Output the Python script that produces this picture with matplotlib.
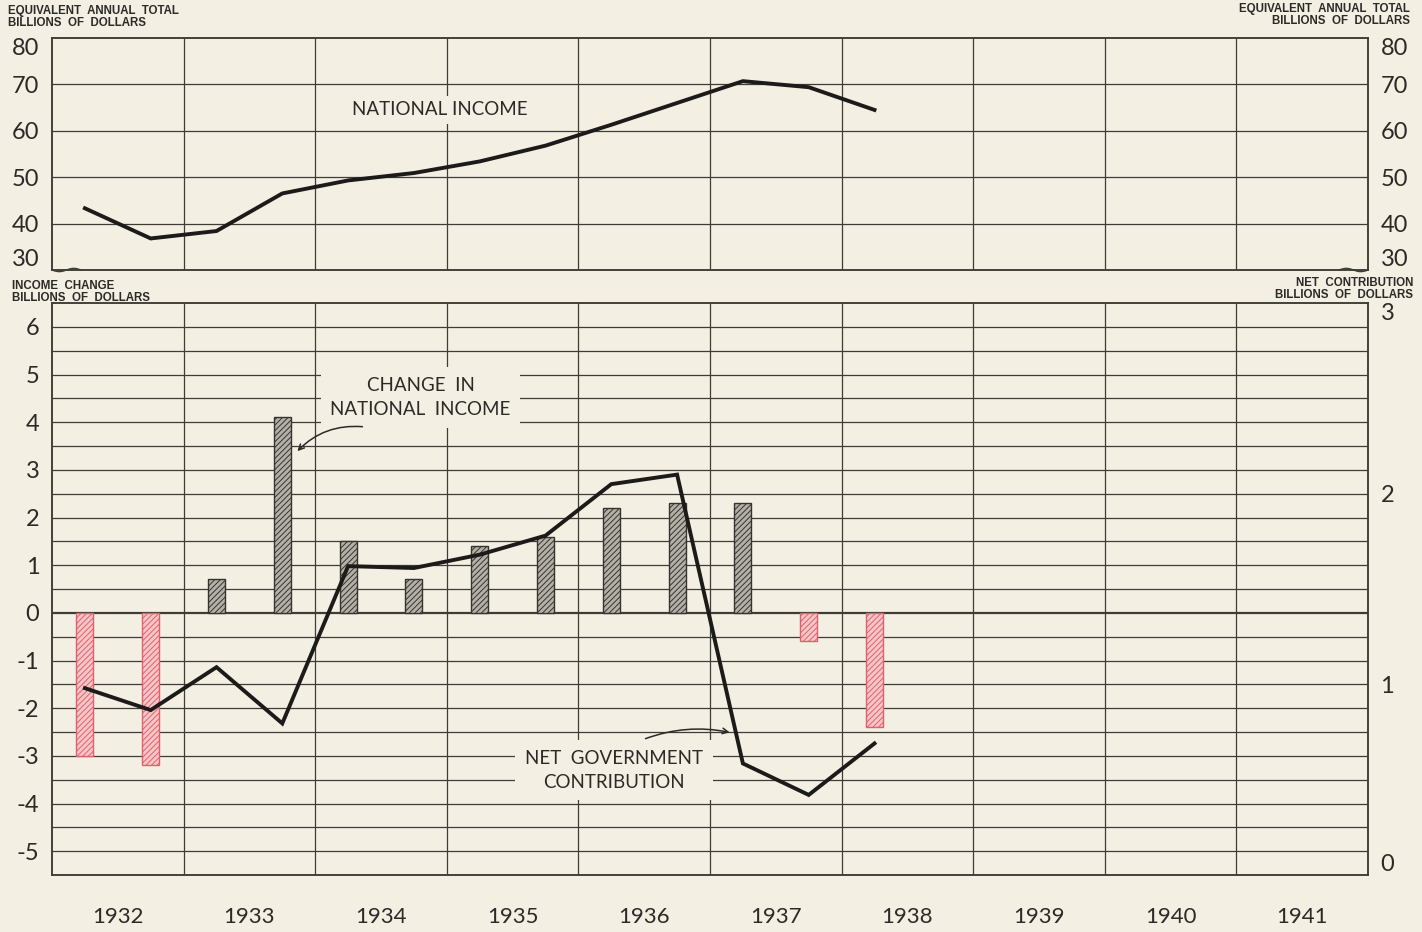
import numpy as np
import matplotlib.pyplot as plt

# Data (half-year periods, 1932 H1 .. 1938 H1)
years = [1932, 1933, 1934, 1935, 1936, 1937, 1938, 1939, 1940, 1941]
periods = [(1932, 1), (1932, 2), (1933, 1), (1933, 2), (1934, 1), (1934, 2),
           (1935, 1), (1935, 2), (1936, 1), (1936, 2), (1937, 1), (1937, 2),
           (1938, 1)]
national_income = [43.3, 36.8, 38.4, 46.5, 49.3, 50.9, 53.4, 56.8, 61.3, 66.0,
                   70.7, 69.4, 64.5]
income_change = [-3.0, -3.2, 0.7, 4.1, 1.5, 0.7, 1.4, 1.6, 2.2, 2.3, 2.3, -0.6,
                 -2.4]
net_contribution = [0.98, 0.865, 1.09, 0.795, 1.62, 1.61, 1.68, 1.78, 2.05,
                    2.10, 0.585, 0.42, 0.69]
top_ticks = [30, 40, 50, 60, 70, 80]
left_ticks = [-5, -4, -3, -2, -1, 0, 1, 2, 3, 4, 5, 6]
right_ticks = [0, 1, 2, 3]

# Styling
BG = '#f3efe3'
INK = '#2b2a27'
GRID = '#3d3c37'
NUM_FONT = 'Lato'
HEAD_FONT = 'Liberation Sans'
plt.rcParams['hatch.linewidth'] = 0.7

x = np.array([y + 0.25 + 0.5 * (h - 1) for y, h in periods])
vals = np.array(income_change)

W, H = 1422, 932
fig = plt.figure(figsize=(W / 100, H / 100), dpi=100, facecolor=BG)
ax1 = fig.add_axes([52 / W, 1 - 270 / H, 1316 / W, 232 / H])
ax2 = fig.add_axes([52 / W, 1 - 875 / H, 1316 / W, 572 / H])
ax1r = ax1.twinx()
ax2r = ax2.twinx()

xmin, xmax = years[0], years[-1] + 1
for a in (ax1, ax2):
    a.set_facecolor(BG)
    a.set_xlim(xmin, xmax)
    for yb in range(xmin + 1, xmax):
        a.axvline(yb, color=GRID, lw=0.9, zorder=1)
for a in (ax1, ax2, ax1r, ax2r):
    for s in a.spines.values():
        s.set_color(GRID)
        s.set_linewidth(1.1)
    a.tick_params(length=0)

# ---- top panel: national income
ax1.set_ylim(30, 80)
ax1r.set_ylim(30, 80)
for v in top_ticks[1:-1]:
    ax1.axhline(v, color=GRID, lw=0.9, zorder=1)
ax1.plot(x, national_income, color='#1c1b19', lw=2.8, zorder=3,
         solid_joinstyle='miter')
ax1.set_xticks([])
for a in (ax1, ax1r):
    a.set_yticks(top_ticks)
    a.set_yticklabels([str(t) for t in top_ticks], fontsize=17,
                      family=NUM_FONT, color=INK)
    a.tick_params(axis='y', pad=9)
    labs = a.get_yticklabels()
    labs[0].set_va('bottom')
    labs[-1].set_va('top')

# axis break squiggles
wx = np.linspace(0, 0.022, 40)
wy = -0.007 * np.sin(wx / 0.022 * 2 * np.pi)
ax1.plot(wx, wy, transform=ax1.transAxes, color=GRID, lw=1, clip_on=False)
ax1.plot(1 - wx, wy, transform=ax1.transAxes, color=GRID, lw=1, clip_on=False)

ax1.text(1934.95, 64.5, 'NATIONAL INCOME', fontsize=13.5, family=NUM_FONT,
         color=INK, ha='center', va='center', zorder=4,
         bbox=dict(facecolor=BG, edgecolor='none', pad=4))

# ---- bottom panel: income change bars + net government contribution
ax2.set_ylim(-5.5, 6.5)
ax2r.set_ylim(0, 3)
for v in np.arange(-5, 6.5, 0.5):
    ax2.axhline(v, color=GRID, lw=1.6 if v == 0 else 0.9, zorder=1)

pos = vals >= 0
ax2.bar(x[pos], vals[pos], width=0.13, color='#b4b0a7', edgecolor='#34332f',
        hatch='//////', lw=1.0, zorder=2)
ax2.bar(x[~pos], vals[~pos], width=0.13, color='#f5c6c8', edgecolor='#e2606c',
        hatch='//////', lw=1.0, zorder=2)

ax2r.plot(x, net_contribution, color='#1c1b19', lw=2.8, zorder=3,
          solid_joinstyle='miter')

ax2.set_xticks([y + 0.5 for y in years])
ax2.set_xticklabels([str(y) for y in years], fontsize=16, family=NUM_FONT,
                    color=INK)
ax2.tick_params(axis='x', pad=23)
ax2.set_yticks(left_ticks)
ax2.set_yticklabels([str(t) for t in left_ticks], fontsize=17,
                    family=NUM_FONT, color=INK)
ax2.tick_params(axis='y', pad=9)
ax2r.set_yticks(right_ticks)
ax2r.set_yticklabels([str(t) for t in right_ticks], fontsize=17,
                     family=NUM_FONT, color=INK)
ax2r.tick_params(axis='y', pad=9)
rl = ax2r.get_yticklabels()
rl[0].set_va('bottom')
rl[-1].set_va('top')

ax2.text(1934.80, 4.52, 'CHANGE  IN\nNATIONAL  INCOME', fontsize=13.5,
         family=NUM_FONT, color=INK, ha='center', va='center',
         linespacing=1.5, zorder=4,
         bbox=dict(facecolor=BG, edgecolor='none', pad=7))
ax2.annotate('', xy=(1933.85, 3.35), xytext=(1934.38, 3.90),
             arrowprops=dict(arrowstyle='->', color=INK, lw=1.1,
                             connectionstyle='arc3,rad=0.25'), zorder=4)

ax2.text(1936.27, -3.30, 'NET  GOVERNMENT\nCONTRIBUTION', fontsize=13.5,
         family=NUM_FONT, color=INK, ha='center', va='center',
         linespacing=1.5, zorder=4,
         bbox=dict(facecolor=BG, edgecolor='none', pad=7))
ax2.annotate('', xy=(1937.17, -2.52), xytext=(1936.49, -2.66),
             arrowprops=dict(arrowstyle='->', color=INK, lw=1.1,
                             connectionstyle='arc3,rad=-0.15'), zorder=4)

# axis headings
hd = dict(fontsize=8.3, family=HEAD_FONT, weight='bold', color=INK,
          linespacing=1.0)
fig.text(8 / W, 1 - 5 / H, 'EQUIVALENT  ANNUAL  TOTAL\nBILLIONS  OF  DOLLARS',
         ha='left', va='top', **hd)
fig.text(1410 / W, 1 - 3 / H, 'EQUIVALENT  ANNUAL  TOTAL\nBILLIONS  OF  DOLLARS',
         ha='right', va='top', multialignment='right', **hd)
fig.text(12 / W, 1 - 280 / H, 'INCOME  CHANGE\nBILLIONS  OF  DOLLARS',
         ha='left', va='top', **hd)
fig.text(1413 / W, 1 - 277 / H, 'NET  CONTRIBUTION\nBILLIONS  OF  DOLLARS',
         ha='right', va='top', multialignment='right', **hd)

fig.savefig('out.png', dpi=100, facecolor=BG)
